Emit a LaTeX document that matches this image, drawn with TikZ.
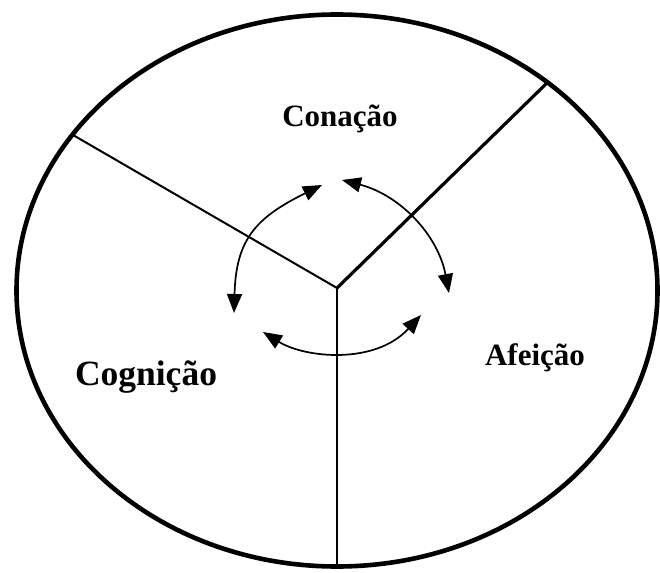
\documentclass[tikz,border=0pt]{standalone}
\usepackage{fontspec}
\setmainfont{Liberation Serif}
\usetikzlibrary{shapes.geometric,arrows.meta}

\tikzset{
  rand/.style={draw, ellipse, line width=4.6pt, inner sep=0pt,
    minimum width=641pt, minimum height=552pt},
  teil/.style={line width=2pt},
  pfeil/.style={line width=1.7pt, {Triangle[length=19pt,width=15pt]}-{Triangle[length=19pt,width=15pt]}},
  titel/.style={font=\bfseries\fontsize{31}{36}\selectfont, anchor=base, inner sep=0pt},
}

\begin{document}
\begin{tikzpicture}[x=1pt, y=-1pt]
  \useasboundingbox (0,0) rectangle (660,572);

  % Ellipse und Mittelpunkt
  \node[rand] (oval) at (337,290.5) {};
  \coordinate (hub) at (337,288);
  \coordinate (rl) at (73,135);
  \coordinate (rr) at (548,82);
  \coordinate (ru) at (337,567);

  % Trennlinien
  \draw[teil] (hub) -- (rl);
  \draw[teil, line width=3.2pt] (hub) -- (rr);
  \draw[teil] (hub) -- (ru);

  % Beschriftungen
  \node[titel] (kon) at (340,127) {Conação};
  \node[titel, font=\bfseries\fontsize{35.5}{40}\selectfont] (kog) at (146,385) {Cognição};
  \node[titel] (afe) at (535,365) {Afeição};

  % Pfeilenden
  \coordinate (p1) at (322,185);
  \coordinate (p2) at (234,313);
  \coordinate (p3) at (342,180);
  \coordinate (p4) at (449,293);
  \coordinate (p5) at (263,332);
  \coordinate (p6) at (421,315);

  % Wechselwirkungen
  \draw[pfeil] (p1) .. controls (255,218) and (236,240) .. (p2);
  \draw[pfeil] (p3) .. controls (400,195) and (438,235) .. (p4);
  \draw[pfeil] (p5) .. controls (305,358) and (375,365) .. (p6);
\end{tikzpicture}
\end{document}
